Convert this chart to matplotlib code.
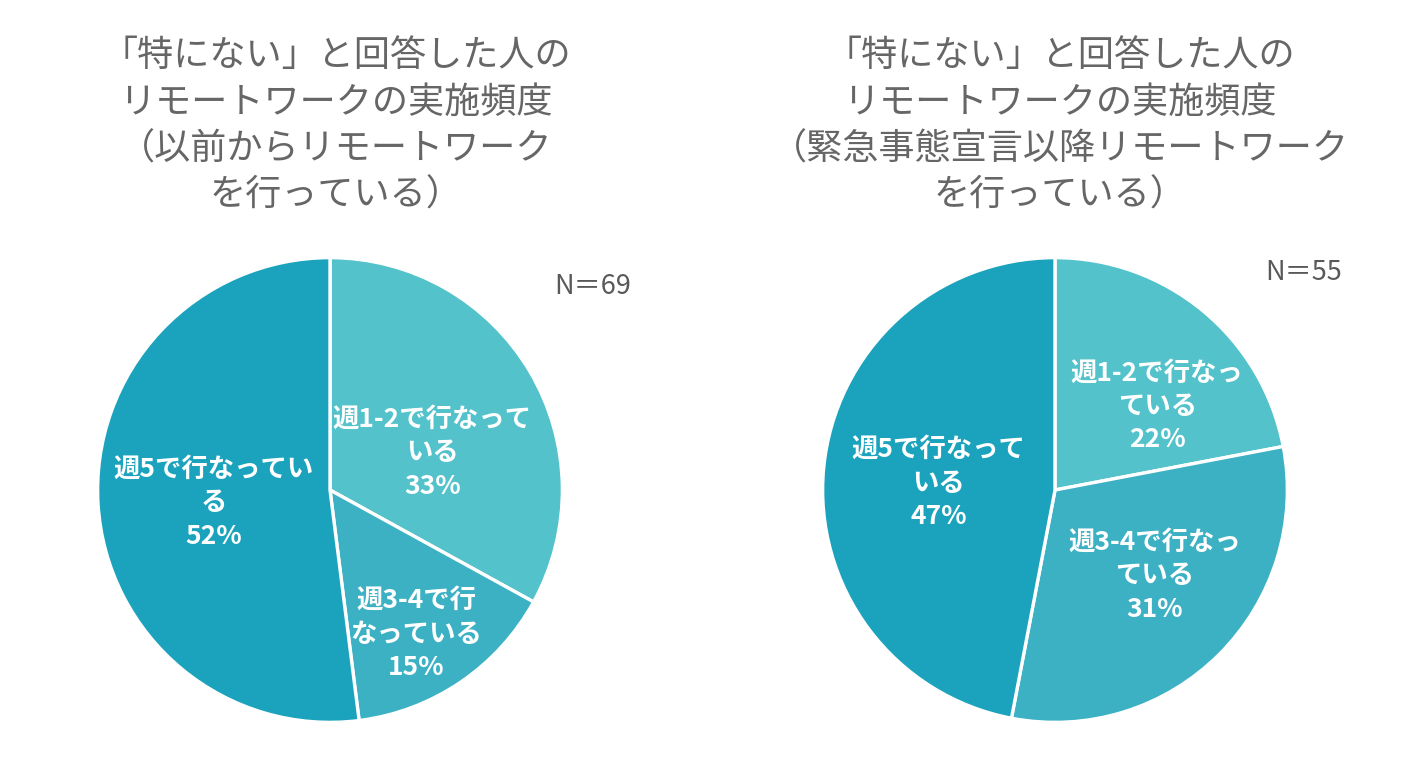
import matplotlib.pyplot as plt

plt.rcParams['font.family'] = ['Noto Sans CJK JP', 'DejaVu Sans']

# data
labels_left = ['週1-2で行なって\nいる', '週3-4で行\nなっている', '週5で行なってい\nる']
values_left = [33, 15, 52]
labels_right = ['週1-2で行なっ\nている', '週3-4で行なっ\nている', '週5で行なって\nいる']
values_right = [22, 31, 47]
n_left = 69
n_right = 55
title_left = '「特にない」と回答した人の\nリモートワークの実施頻度\n（以前からリモートワーク\nを行っている）'
title_right = '「特にない」と回答した人の\nリモートワークの実施頻度\n（緊急事態宣言以降リモートワーク\nを行っている）'

colors = ['#53C2CB', '#3CB1C4', '#1BA3BD']
title_color = '#666666'
W, H = 1422, 767

fig = plt.figure(figsize=(W / 100, H / 100), dpi=100)


def px_axes(cx, cy, r):
    return fig.add_axes([(cx - r) / W, (H - cy - r) / H, 2 * r / W, 2 * r / H])


def draw_pie(ax, values, labels, label_pos):
    ax.pie(values, colors=colors, startangle=90, counterclock=False,
           radius=1, wedgeprops={'edgecolor': 'white', 'linewidth': 2.4})
    for v, lab, (x, y) in zip(values, labels, label_pos):
        ax.text(x, y, '%s\n%d%%' % (lab, v), ha='center', va='center',
                color='white', fontsize=19, fontweight='bold', linespacing=1.3)
    ax.set_xlim(-1.02, 1.02)
    ax.set_ylim(-1.02, 1.02)
    ax.set_aspect('equal')
    ax.axis('off')


ax1 = px_axes(330, 490, 237)
draw_pie(ax1, values_left, labels_left, [(0.44, 0.16), (0.37, -0.62), (-0.50, -0.055)])
ax2 = px_axes(1055, 490, 237)
draw_pie(ax2, values_right, labels_right, [(0.44, 0.36), (0.43, -0.37), (-0.50, 0.03)])

fig.text(336 / W, 1 - 126 / H, title_left, ha='center', va='center',
         fontsize=26, color=title_color, linespacing=1.38)
fig.text(1060 / W, 1 - 126 / H, title_right, ha='center', va='center',
         fontsize=26, color=title_color, linespacing=1.38)

fig.text(593 / W, 1 - 287 / H, 'N＝%d' % n_left, ha='center', va='center',
         fontsize=19.5, color='#595959')
fig.text(1304 / W, 1 - 272 / H, 'N＝%d' % n_right, ha='center', va='center',
         fontsize=19.5, color='#595959')

fig.savefig('out.png', dpi=100, facecolor='white')
